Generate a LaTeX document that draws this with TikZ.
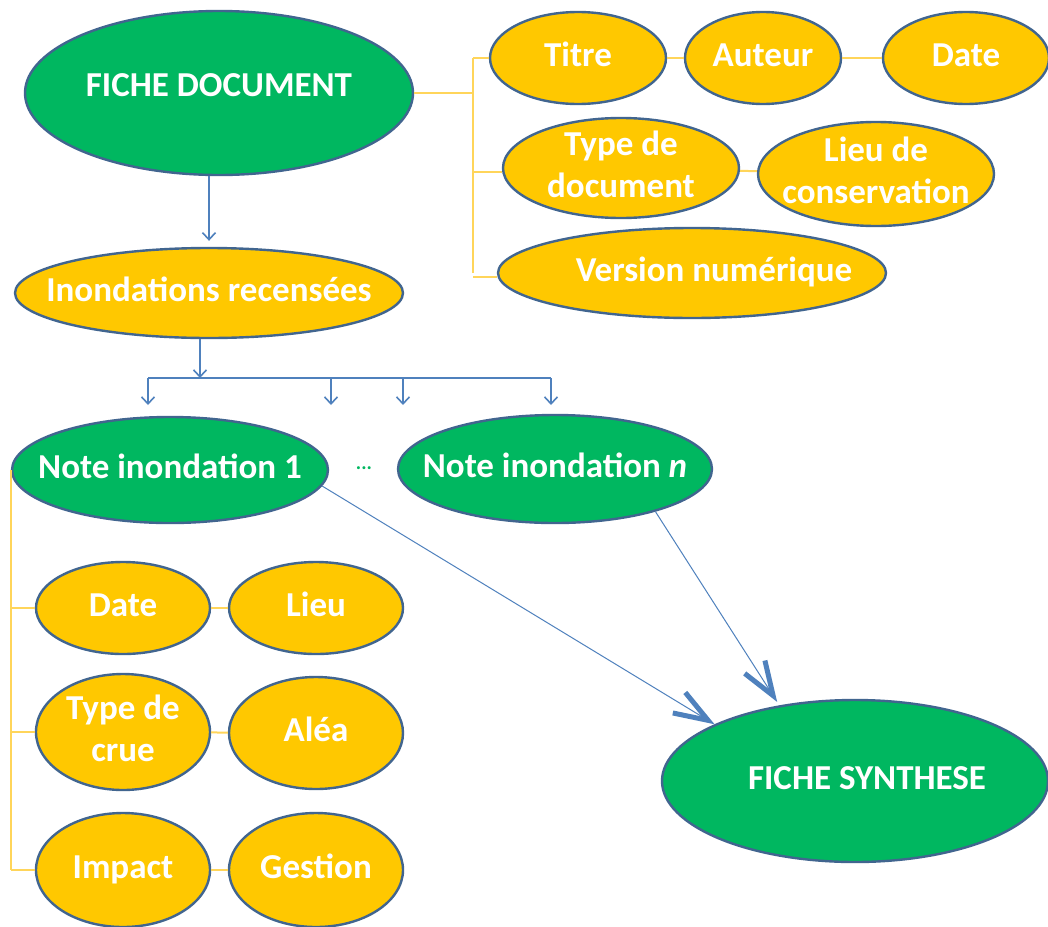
\documentclass[tikz,border=0pt]{standalone}
\usepackage{fontspec}
\setmainfont{Carlito}
\usetikzlibrary{shapes.geometric,arrows.meta}
\definecolor{grn}{HTML}{00B760}
\definecolor{ylw}{HTML}{FFC800}
\definecolor{bord}{HTML}{41658F}
\definecolor{lnk}{HTML}{4F81BD}
\definecolor{brk}{HTML}{FFD55A}
\newcommand\tl[2][0pt]{\makebox[0pt]{\hspace{#1}\raisebox{-3pt}{\begin{tabular}{@{}c@{}}#2\end{tabular}}}}
\begin{document}
\begin{tikzpicture}[x=1pt,y=-1pt,
  ell/.style={ellipse, draw=bord, line width=2.4pt, inner xsep=0pt, inner ysep=-20pt,
    text=white, font=\fontsize{35}{42}\selectfont\bfseries},
  gnode/.style={ell, fill=grn},
  ynode/.style={ell, fill=ylw},
  brack/.style={draw=brk, line width=2pt},
  blink/.style={draw=lnk, line width=1.6pt, -{Straight Barb[length=7pt,width=13pt,line width=1.6pt]}},
  bigarr/.style={draw=lnk, line width=1pt, -{Straight Barb[length=34pt,width=24pt,line width=5pt]}}
]
\useasboundingbox (0,0) rectangle (1048,926);
\fill[white] (0,0) rectangle (1048,926);

% top part
\node[gnode, minimum width=388pt, minimum height=164pt] (fd) at (219,93) {\tl{\raisebox{5pt}{FICHE DOCUMENT}}};
\node[ynode, minimum width=388pt, minimum height=90pt] (ir) at (209,293) {\tl{Inondations recensées}};

\node[ynode, minimum width=176pt, minimum height=92pt] (titre) at (578,58) {\tl{Titre}};
\node[ynode, minimum width=156pt, minimum height=92pt] (auteur) at (763,58) {\tl{Auteur}};
\node[ynode, minimum width=166pt, minimum height=92pt] (date1) at (966,58) {\tl{Date}};
\node[ynode, minimum width=236pt, minimum height=100pt] (typdoc) at (621,168) {\tl{Type de\\document}};
\node[ynode, minimum width=236pt, minimum height=104pt] (lieucons) at (876,174) {\tl{Lieu de\\conservation}};
\node[ynode, minimum width=388pt, minimum height=90pt] (version) at (692,273) {\tl[44pt]{Version numérique}};

% right bracket
\coordinate (rb) at (473,95);
\draw[brack] (fd.east) -- (fd.east -| rb);
\draw[brack] (titre.west -| rb) -- (rb |- version.west);
\draw[brack] (titre.west -| rb) -- (titre.west);
\draw[brack] (rb |- 0,172) -- (typdoc.west |- 0,172);
\draw[brack] (rb |- 0,277) -- (version.west |- 0,277);
\draw[brack] (titre) -- (auteur);
\draw[brack] (auteur) -- (date1);
\draw[brack] (typdoc) -- (lieucons);

% blue arrows
\draw[blink, shorten >=6pt] (ir.north |- fd.south) -- (ir.north);

\coordinate (hub) at (200,378);
\coordinate (b1) at (148,378);
\coordinate (b2) at (331,378);
\coordinate (b3) at (403,378);
\coordinate (b4) at (551,378);
\coordinate (t1) at (148,405);
\coordinate (t2) at (331,405);
\coordinate (t3) at (403,405);
\coordinate (t4) at (551,405);
\draw[blink] (ir.south -| hub) -- (hub);
\draw[draw=lnk, line width=1.6pt] (b1) -- (b4);
\draw[blink] (b1) -- (t1);
\draw[blink] (b2) -- (t2);
\draw[blink] (b3) -- (t3);
\draw[blink] (b4) -- (t4);

% notes
\node[gnode, minimum width=316pt, minimum height=106pt] (n1) at (170,470) {\tl{Note inondation 1}};
\node[gnode, minimum width=314pt, minimum height=108pt] (nn) at (555,469) {\tl{Note inondation \textit{n}}};
\node[text=grn, font=\fontsize{20}{24}\selectfont\bfseries] (dots) at (364,468) {...};

% detail nodes
\node[ynode, minimum width=174pt, minimum height=92pt] (date2) at (123,608) {\tl{Date}};
\node[ynode, minimum width=174pt, minimum height=92pt] (lieu) at (316,608) {\tl{Lieu}};
\node[ynode, minimum width=174pt, minimum height=116pt] (crue) at (123,732) {\tl{Type de\\crue}};
\node[ynode, minimum width=174pt, minimum height=112pt] (alea) at (316,733) {\tl{Aléa}};
\node[ynode, minimum width=174pt, minimum height=114pt] (impact) at (123,870) {\tl{Impact}};
\node[ynode, minimum width=174pt, minimum height=114pt] (gestion) at (316,870) {\tl{Gestion}};

% lower bracket
\draw[brack] (n1.west) -- (n1.west |- impact.west);
\draw[brack] (n1.west |- date2.west) -- (date2.west);
\draw[brack] (n1.west |- crue.west) -- (crue.west);
\draw[brack] (n1.west |- impact.west) -- (impact.west);
\draw[brack] (date2) -- (lieu);
\draw[brack] (crue) -- (alea);
\draw[brack] (impact) -- (gestion);

% synthese
\node[gnode, minimum width=386pt, minimum height=162pt] (syn) at (855,781) {\tl[24pt]{FICHE SYNTHESE}};
\draw[bigarr] (n1.-6) -- (syn.158);
\draw[bigarr, shorten >=4pt] (nn.-23) -- (syn.135);
\end{tikzpicture}
\end{document}
